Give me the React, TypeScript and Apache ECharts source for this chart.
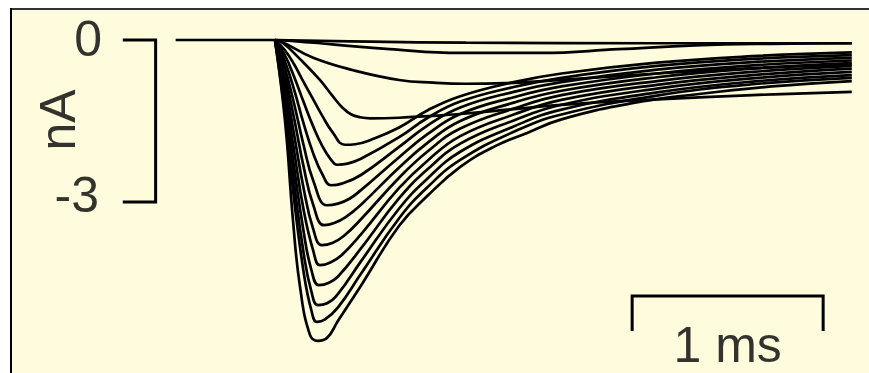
import React, { useEffect, useRef } from "react";
import * as echarts from "echarts";

// Holding baseline before the step: [time (ms), current (nA)].
const baseline: [number, number][] = [[-0.52, 0], [0, 0]];

// Membrane current sweeps after the step at t = 0: [time (ms), current (nA)].
const sweep01: [number, number][] = [[0, 0], [0.5, -0.03], [1.0, -0.05], [2.0, -0.06], [3.02, -0.06]];
const sweep02: [number, number][] = [[0, 0], [0.1, -0.02], [0.3, -0.08], [0.6, -0.17], [0.97, -0.24], [1.39, -0.24], [1.8, -0.17], [2.2, -0.1], [2.6, -0.07], [3.02, -0.06]];
const sweep03: [number, number][] = [[0, 0], [0.04, -0.04], [0.2, -0.33], [0.41, -0.56], [0.65, -0.74], [0.83, -0.79], [1.0, -0.81], [1.2, -0.8], [1.5, -0.74], [2.0, -0.62], [2.5, -0.52], [3.02, -0.45]];
const sweep04: [number, number][] = [[0, 0], [0.04, -0.05], [0.13, -0.35], [0.235, -0.74], [0.3, -1.03], [0.355, -1.26], [0.4, -1.38], [0.445, -1.43], [0.5, -1.45], [0.65, -1.44], [0.8, -1.41], [0.97, -1.37], [1.25, -1.28], [1.5, -1.2], [2.0, -1.1], [2.5, -1.02], [3.02, -0.96]];
const sweep05: [number, number][] = [[0, 0], [0.05, -0.18], [0.1, -0.45], [0.15, -0.78], [0.2, -1.1], [0.25, -1.42], [0.3, -1.7], [0.366, -1.94], [0.42, -1.93], [0.5, -1.85], [0.65, -1.62], [0.8, -1.3], [0.97, -1.04], [1.25, -0.78], [1.5, -0.62], [2.0, -0.42], [2.5, -0.3], [3.02, -0.23]];
const sweep06: [number, number][] = [[0, 0], [0.05, -0.27], [0.1, -0.68], [0.15, -1.15], [0.2, -1.6], [0.25, -1.98], [0.29, -2.2], [0.325, -2.31], [0.38, -2.29], [0.45, -2.2], [0.65, -1.8], [0.8, -1.44], [0.97, -1.14], [1.25, -0.87], [1.5, -0.7], [2.0, -0.48], [2.5, -0.35], [3.02, -0.28]];
const sweep07: [number, number][] = [[0, 0], [0.05, -0.38], [0.1, -0.92], [0.15, -1.55], [0.2, -2.1], [0.25, -2.5], [0.293, -2.69], [0.35, -2.66], [0.45, -2.5], [0.65, -1.98], [0.8, -1.58], [0.97, -1.25], [1.25, -0.96], [1.5, -0.78], [2.0, -0.55], [2.5, -0.41], [3.02, -0.33]];
const sweep08: [number, number][] = [[0, 0], [0.05, -0.5], [0.1, -1.18], [0.15, -1.95], [0.2, -2.6], [0.272, -3.06], [0.33, -3.03], [0.39, -2.94], [0.45, -2.78], [0.65, -2.17], [0.8, -1.74], [0.97, -1.37], [1.25, -1.06], [1.5, -0.86], [2.0, -0.62], [2.5, -0.47], [3.02, -0.38]];
const sweep09: [number, number][] = [[0, 0], [0.05, -0.62], [0.1, -1.45], [0.15, -2.35], [0.2, -3.05], [0.257, -3.43], [0.31, -3.39], [0.37, -3.28], [0.45, -3.05], [0.65, -2.36], [0.8, -1.9], [0.97, -1.5], [1.25, -1.16], [1.5, -0.94], [2.0, -0.69], [2.5, -0.53], [3.02, -0.43]];
const sweep10: [number, number][] = [[0, 0], [0.05, -0.75], [0.1, -1.75], [0.15, -2.75], [0.2, -3.5], [0.246, -3.8], [0.3, -3.76], [0.36, -3.63], [0.45, -3.32], [0.65, -2.55], [0.8, -2.06], [0.97, -1.64], [1.25, -1.27], [1.5, -1.02], [2.0, -0.76], [2.5, -0.59], [3.02, -0.48]];
const sweep11: [number, number][] = [[0, 0], [0.05, -0.88], [0.1, -2.05], [0.15, -3.15], [0.2, -3.9], [0.236, -4.17], [0.29, -4.12], [0.35, -3.98], [0.45, -3.6], [0.65, -2.74], [0.8, -2.23], [0.97, -1.78], [1.25, -1.38], [1.5, -1.11], [2.0, -0.83], [2.5, -0.65], [3.02, -0.53]];
const sweep12: [number, number][] = [[0, 0], [0.05, -1.0], [0.1, -2.35], [0.15, -3.55], [0.19, -4.25], [0.23, -4.54], [0.28, -4.5], [0.33, -4.38], [0.45, -3.86], [0.65, -2.93], [0.8, -2.39], [0.97, -1.92], [1.25, -1.49], [1.5, -1.2], [2.0, -0.9], [2.5, -0.71], [3.02, -0.59]];
const sweep13: [number, number][] = [[0, 0], [0.05, -1.15], [0.1, -2.65], [0.15, -3.95], [0.19, -4.65], [0.225, -4.91], [0.27, -4.88], [0.33, -4.7], [0.45, -4.1], [0.65, -3.12], [0.8, -2.56], [0.97, -2.07], [1.25, -1.6], [1.5, -1.29], [2.0, -0.97], [2.5, -0.77], [3.02, -0.65]];
const sweep14: [number, number][] = [[0, 0], [0.05, -1.3], [0.1, -2.95], [0.15, -4.3], [0.19, -5.0], [0.22, -5.22], [0.26, -5.18], [0.33, -4.95], [0.45, -4.33], [0.65, -3.3], [0.8, -2.72], [0.97, -2.22], [1.25, -1.7], [1.5, -1.38], [2.0, -1.03], [2.5, -0.82], [3.02, -0.7]];
const sweep15: [number, number][] = [[0, 0], [0.052, -1.48], [0.094, -3.33], [0.131, -4.57], [0.183, -5.46], [0.225, -5.57], [0.272, -5.52], [0.33, -5.2], [0.45, -4.55], [0.65, -3.44], [0.8, -2.88], [0.97, -2.35], [1.15, -1.97], [1.32, -1.72], [1.5, -1.47], [1.87, -1.17], [2.22, -1.0], [2.6, -0.86], [3.02, -0.76]];

const sweeps = [sweep01, sweep02, sweep03, sweep04, sweep05, sweep06, sweep07, sweep08, sweep09, sweep10, sweep11, sweep12, sweep13, sweep14, sweep15];

// Calibration bars: 3 nA bracket (with 0 and -3 marks) and 1 ms bar.
const currentBar: [number, number][] = [[-0.797, 0], [-0.625, 0], [-0.625, -3], [-0.797, -3]];
const timeBar: [number, number][] = [[1.87, -5.39], [1.87, -4.74], [2.87, -4.74], [2.87, -5.39]];

// Calibration texts: [time, current, text, rotation, align]
const barLabels: [number, number, string, number, string][] = [
  [-0.906, 0.02, "0", 0, "right"],
  [-0.921, -2.87, "-3", 0, "right"],
  [-1.136, -1.48, "nA", 90, "center"],
  [2.37, -5.64, "1 ms", 0, "center"],
];

const W = 869;
const H = 373;
const PAPER = "#FFFBDD";
const FONT = "'Liberation Sans', Arial, sans-serif";
const TRACE_WIDTH = 2.7;

export default function App() {
  const ref = useRef<HTMLDivElement>(null);

  useEffect(() => {
    if (!ref.current) return;
    const chart = echarts.init(ref.current, undefined, { renderer: "svg" });

    const traceSeries = sweeps.map((d, i) => ({
      name: `sweep ${i + 1}`,
      type: "line",
      data: d,
      showSymbol: false,
      smooth: 0.45,
      silent: true,
      z: 3,
      lineStyle: { color: "#000", width: TRACE_WIDTH },
    }));

    chart.setOption({
      animation: false,
      backgroundColor: "#ffffff",
      graphic: [
        { type: "rect", z: -10, shape: { x: 10, y: 8, width: W - 10, height: H - 8 }, style: { fill: PAPER } },
        { type: "line", z: -9, shape: { x1: 10, y1: 9, x2: W, y2: 9 }, style: { stroke: "#333", lineWidth: 2 } },
        { type: "line", z: -9, shape: { x1: 11, y1: 8, x2: 11, y2: H }, style: { stroke: "#000", lineWidth: 2 } },
      ],
      grid: { left: 7.6, right: 17.2, top: 34.6, bottom: 9, containLabel: false },
      xAxis: { type: "value", min: -1.4, max: 3.02, show: false },
      yAxis: { type: "value", min: -6, max: 0.1, show: false },
      series: [
        {
          type: "line",
          data: baseline,
          showSymbol: false,
          silent: true,
          z: 3,
          lineStyle: { color: "#000", width: TRACE_WIDTH },
        },
        ...traceSeries,
        {
          type: "line",
          data: currentBar,
          showSymbol: false,
          clip: false,
          silent: true,
          lineStyle: { color: "#000", width: 3, join: "miter", cap: "butt" },
        },
        {
          type: "line",
          data: timeBar,
          showSymbol: false,
          clip: false,
          silent: true,
          lineStyle: { color: "#000", width: 3, join: "miter", cap: "butt" },
        },
        {
          type: "scatter",
          symbolSize: 0,
          clip: false,
          silent: true,
          data: barLabels.map((l) => ({
            value: [l[0], l[1]],
            label: {
              show: true,
              position: "inside",
              formatter: l[2],
              rotate: l[3],
              align: l[4],
              verticalAlign: "middle",
              color: "#000",
              fontSize: 50,
              lineHeight: 40,
              fontFamily: FONT,
            },
          })),
        },
      ],
    });

    return () => chart.dispose();
  }, []);

  return <div ref={ref} style={{ position: "absolute", left: 0, top: 0, width: W, height: H }} />;
}
